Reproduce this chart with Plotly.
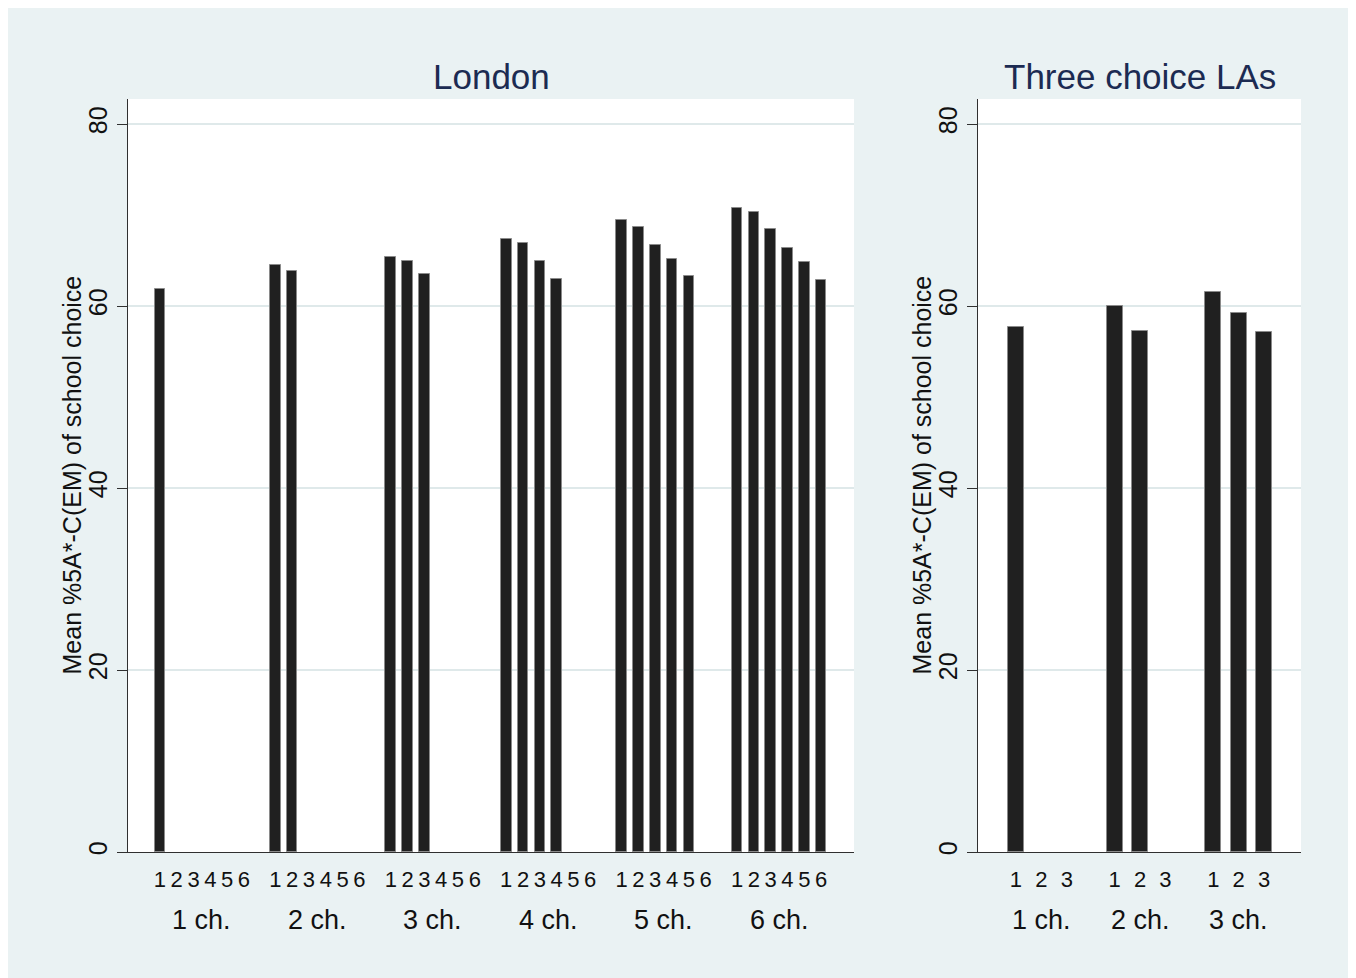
import plotly.graph_objects as go

# ---------------- data ----------------
london_groups = ["1 ch.", "2 ch.", "3 ch.", "4 ch.", "5 ch.", "6 ch."]
london_1ch = [61.9]
london_2ch = [64.5, 63.8]
london_3ch = [65.4, 65.0, 63.5]
london_4ch = [67.4, 66.9, 65.0, 63.0]
london_5ch = [69.5, 68.7, 66.7, 65.2, 63.3]
london_6ch = [70.8, 70.3, 68.5, 66.4, 64.8, 62.9]
london_slots = ["1", "2", "3", "4", "5", "6"]

three_groups = ["1 ch.", "2 ch.", "3 ch."]
three_1ch = [57.7]
three_2ch = [60.0, 57.2]
three_3ch = [61.5, 59.2, 57.1]
three_slots = ["1", "2", "3"]

y_ticks = [0, 20, 40, 60, 80]
y_title = "Mean %5A*-C(EM) of school choice"
titles = ["London", "Three choice LAs"]

# ---------------- layout constants ----------------
OFF = 8  # page body margin offset
PAGE_W, PAGE_H = 1356, 978
W, H = PAGE_W - OFF, PAGE_H - OFF
PLOT_L, PLOT_R, PLOT_T, PLOT_B = 128, 1301, 99, 852  # page pixel coords
ML, MR, MT, MB = PLOT_L - OFF, PAGE_W - PLOT_R, PLOT_T - OFF, PAGE_H - PLOT_B
PW, PH = W - ML - MR, H - MT - MB

def px_x(p):
    return (p - PLOT_L) / PW

def px_y(p):
    return (PLOT_B - p) / PH

FONT = "Liberation Sans, Arial, sans-serif"
BG = "#EAF2F3"
BAR = "#202020"
BAR_EDGE = "#8a8a8a"
GRID = "#dfe9ea"
AXIS = "#303030"
NAVY = "#1c2b52"
TXT = "#111111"

dom_left = [0, px_x(854)]
dom_right = [px_x(978), 1]

def build(groups_vals, step):
    xs, ys, tv, tt, centers = [], [], [], [], []
    nslots = len(groups_vals)
    for g, vals in enumerate(groups_vals):
        for s in range(nslots):
            x = g * step + s
            tv.append(x)
            tt.append(s)
            if s < len(vals):
                xs.append(x)
                ys.append(vals[s])
        centers.append(g * step + (nslots - 1) / 2)
    return xs, ys, tv, tt, centers

london_vals = [london_1ch, london_2ch, london_3ch, london_4ch, london_5ch, london_6ch]
three_vals = [three_1ch, three_2ch, three_3ch]

STEP_L, STEP_R = 6.87, 3.88
lx, ly, ltv, ltt, lc = build(london_vals, STEP_L)
rx, ry, rtv, rtt, rc = build(three_vals, STEP_R)
ltt = [london_slots[i] for i in ltt]
rtt = [three_slots[i] for i in rtt]

fig = go.Figure()
fig.add_trace(go.Bar(x=lx, y=ly, width=0.63, marker=dict(color=BAR, line=dict(color=BAR_EDGE, width=1)),
                     xaxis="x", yaxis="y", showlegend=False, hoverinfo="y"))
fig.add_trace(go.Bar(x=rx, y=ry, width=0.63, marker=dict(color=BAR, line=dict(color=BAR_EDGE, width=1)),
                     xaxis="x2", yaxis="y2", showlegend=False, hoverinfo="y"))

yrange = [0, (PLOT_B - PLOT_T) / 9.1]

def yaxis(anchor):
    return dict(
        anchor=anchor, range=yrange, tickvals=y_ticks, ticktext=[str(v) for v in y_ticks],
        tickangle=-90, ticks="outside", ticklen=10, tickwidth=1, tickcolor=AXIS,
        showline=True, linecolor=AXIS, linewidth=1, showgrid=True, gridcolor=GRID, gridwidth=1.5,
        zeroline=False, tickfont=dict(family=FONT, size=25, color=TXT),
    )

def xaxis(domain, anchor, rng, tv, tt):
    return dict(
        domain=domain, anchor=anchor, range=rng, tickvals=tv, ticktext=tt,
        ticks="outside", ticklen=8, tickcolor="rgba(0,0,0,0)", tickangle=0,
        showline=True, linecolor=AXIS, linewidth=1, showgrid=False, zeroline=False,
        tickfont=dict(family=FONT, size=22, color=TXT),
    )

fig.update_layout(
    width=W, height=H,
    margin=dict(l=ML, r=MR, t=MT, b=MB, autoexpand=False),
    paper_bgcolor="white", plot_bgcolor="white",
    bargap=0,
    xaxis=xaxis(dom_left, "y", [-1.9, 5 * STEP_L + 5 + 1.96], ltv, ltt),
    yaxis=yaxis("x"),
    xaxis2=xaxis(dom_right, "y2", [-1.49, 2 * STEP_R + 2 + 1.45], rtv, rtt),
    yaxis2=yaxis("x2"),
)

shapes = [
    dict(type="rect", xref="paper", yref="paper", x0=px_x(OFF), x1=px_x(1349), y0=px_y(PAGE_H + 5), y1=px_y(OFF),
         fillcolor=BG, line=dict(width=0), layer="below"),
    dict(type="rect", xref="paper", yref="paper", x0=dom_left[0], x1=dom_left[1], y0=0, y1=1,
         fillcolor="white", line=dict(width=0), layer="below"),
    dict(type="rect", xref="paper", yref="paper", x0=dom_right[0], x1=dom_right[1], y0=0, y1=1,
         fillcolor="white", line=dict(width=0), layer="below"),
]
fig.update_layout(shapes=shapes)

ann = []
for c, lab in zip(lc, london_groups):
    ann.append(dict(x=c, xref="x", y=px_y(920), yref="paper", text=lab, showarrow=False,
                    xanchor="center", yanchor="middle", font=dict(family=FONT, size=27, color=TXT)))
for c, lab in zip(rc, three_groups):
    ann.append(dict(x=c, xref="x2", y=px_y(920), yref="paper", text=lab, showarrow=False,
                    xanchor="center", yanchor="middle", font=dict(family=FONT, size=27, color=TXT)))
for dom, t in zip([dom_left, dom_right], titles):
    ann.append(dict(x=(dom[0] + dom[1]) / 2, xref="paper", y=px_y(76), yref="paper", text=t,
                    showarrow=False, xanchor="center", yanchor="middle",
                    font=dict(family=FONT, size=35, color=NAVY)))
for xp in [71, 921]:
    ann.append(dict(x=px_x(xp), xref="paper", y=px_y((PLOT_T + PLOT_B) / 2), yref="paper", text=y_title,
                    textangle=-90, showarrow=False, xanchor="center", yanchor="middle",
                    font=dict(family=FONT, size=25, color=TXT)))
fig.update_layout(annotations=ann)

fig.write_html("out.html")
